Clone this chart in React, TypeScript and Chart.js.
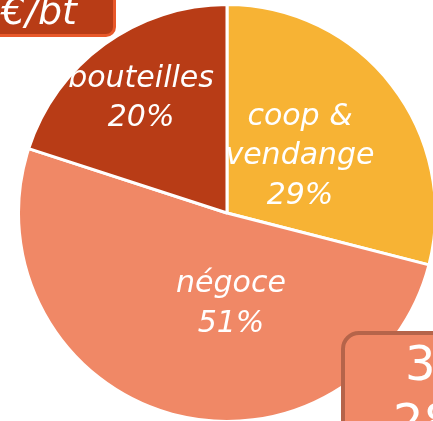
import React, { useEffect, useRef } from "react";
import { Chart, registerables } from "chart.js";

Chart.register(...registerables);

const categories = ["coop & vendange", "négoce", "bouteilles"];
const shares = [29, 51, 20];
const labelLines = [["coop &", "vendange"], ["négoce"], ["bouteilles"]];
const sliceColors = ["#F7B334", "#F08866", "#B83C16"];
// label placement: radial factor and angular shift (degrees)
const labelRadius = [0.443, 0.437, 0.685];
const labelShift = [0, -18.7, -1];

const FONT = "'DejaVu Sans', sans-serif";

const labelPlugin = {
  id: "sliceLabels",
  afterDatasetsDraw(chart: any) {
    const ctx = chart.ctx;
    const meta = chart.getDatasetMeta(0);
    const total = shares.reduce((a, b) => a + b, 0);
    ctx.save();
    ctx.fillStyle = "#FFFFFF";
    ctx.font = `oblique 30px ${FONT}`;
    ctx.textAlign = "center";
    ctx.textBaseline = "middle";
    meta.data.forEach((arc: any, i: number) => {
      const p = arc.getProps(["x", "y", "startAngle", "endAngle", "outerRadius"], true);
      const mid = (p.startAngle + p.endAngle) / 2 + (labelShift[i] * Math.PI) / 180;
      const r = p.outerRadius * labelRadius[i];
      const cx = p.x + Math.cos(mid) * r;
      const cy = p.y + Math.sin(mid) * r;
      const lines = [...labelLines[i], `${Math.round((shares[i] / total) * 100)}%`];
      const lh = 39.5;
      const y0 = cy - ((lines.length - 1) * lh) / 2;
      lines.forEach((t, k) => ctx.fillText(t, cx, y0 + k * lh));
    });
    ctx.restore();
  },
};

export default function App() {
  const ref = useRef<HTMLCanvasElement | null>(null);
  useEffect(() => {
    document.body.style.margin = "0";
    document.body.style.overflow = "hidden";
    const chart = new Chart(ref.current as HTMLCanvasElement, {
      type: "pie",
      data: {
        labels: categories,
        datasets: [
          {
            data: shares,
            backgroundColor: sliceColors,
            borderColor: "#FFFFFF",
            borderWidth: 3,
          },
        ],
      },
      options: {
        animation: false,
        responsive: false,
        maintainAspectRatio: false,
        layout: { padding: 0 },
        plugins: { legend: { display: false }, tooltip: { enabled: false } },
      },
      plugins: [labelPlugin],
    });
    return () => chart.destroy();
  }, []);

  return (
    <div style={{ position: "relative", width: 433, height: 421, overflow: "hidden", background: "#fff" }}>
      <canvas
        ref={ref}
        width={420}
        height={420}
        style={{ position: "absolute", left: 17, top: 3, width: 420, height: 420 }}
      />
      <div
        style={{
          position: "absolute",
          left: -20,
          top: -20,
          width: 136,
          height: 57,
          boxSizing: "border-box",
          background: "#B83C16",
          border: "3px solid #E8582A",
          borderRadius: 10,
        }}
      />
      <span
        style={{
          position: "absolute",
          right: 433 - 77,
          top: -8,
          fontFamily: FONT,
          fontStyle: "oblique",
          fontSize: 38,
          lineHeight: "38px",
          color: "#fff",
          whiteSpace: "nowrap",
        }}
      >
        €/bt
      </span>
      <div
        style={{
          position: "absolute",
          left: 341,
          top: 331,
          width: 130,
          height: 130,
          boxSizing: "border-box",
          background: "#F08866",
          border: "4px solid #B5644A",
          borderRadius: 18,
        }}
      />
      <span
        style={{
          position: "absolute",
          left: 405,
          top: 339,
          fontFamily: FONT,
          fontSize: 48,
          lineHeight: "48px",
          color: "#fff",
          whiteSpace: "nowrap",
        }}
      >
        3
      </span>
      <span
        style={{
          position: "absolute",
          left: 393,
          top: 397,
          fontFamily: FONT,
          fontSize: 48,
          lineHeight: "48px",
          color: "#fff",
          whiteSpace: "nowrap",
        }}
      >
        28
      </span>
    </div>
  );
}
